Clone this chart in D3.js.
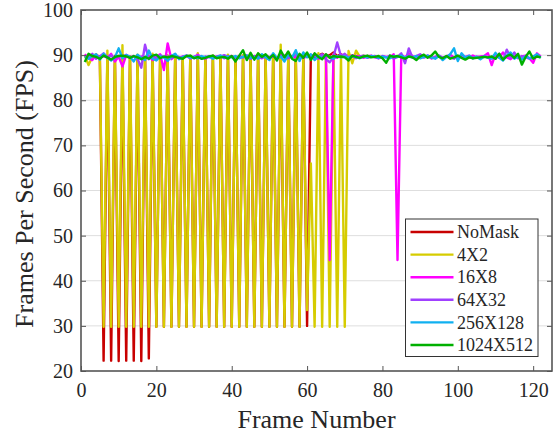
<!DOCTYPE html>
<html>
<head>
<meta charset="utf-8">
<title>FPS</title>
<script src="https://d3js.org/d3.v7.min.js"></script>
<style>
  body { margin: 0; background: #fff; }
  text { font-family: "Liberation Serif", "Times New Roman", serif; fill: #262626; }
</style>
</head>
<body>
<div id="chart"></div>
<script>
// series names and colours (plot order)
const seriesNames = ["NoMask", "4X2", "16X8", "64X32", "256X128", "1024X512"];
const seriesColors = ["#c80000", "#d6cc00", "#ff00ff", "#a040ff", "#10b0f0", "#00b000"];

// FPS per frame, frame 1 first
const noMask = [89.6, 89.9, 89.4, 89.8, 89.7, 22.3, 89.9, 22.3, 89.8, 22.2,
  90.0, 22.3, 89.7, 22.3, 89.9, 22.2, 89.6, 22.8, 89.9, 29.8,
  89.7, 29.8, 89.9, 29.8, 90.1, 29.8, 89.6, 29.8, 89.8, 29.8,
  90.2, 29.8, 89.5, 29.8, 89.8, 29.8, 89.4, 29.8, 90.0, 29.8,
  89.6, 29.8, 89.9, 29.8, 89.5, 29.8, 90.1, 29.8, 89.7, 29.8,
  90.0, 29.8, 90.6, 29.8, 89.6, 29.8, 90.0, 29.8, 89.8, 30.0,
  90.0, 89.5, 89.9, 90.3, 89.7, 90.0, 90.6, 89.8, 90.2, 89.7,
  89.9, 89.6, 89.8, 89.7];

const mask4x2 = [90.0, 87.8, 89.6, 90.2, 89.4, 29.8, 91.0, 29.8, 89.5, 29.8,
  92.2, 29.8, 89.7, 29.8, 90.1, 29.8, 89.3, 29.8, 90.3, 29.8,
  89.6, 29.8, 89.9, 29.8, 90.2, 29.8, 89.5, 29.8, 89.8, 29.8,
  90.4, 29.8, 89.6, 29.8, 89.9, 29.8, 89.4, 29.8, 90.1, 29.8,
  89.7, 29.8, 90.0, 29.8, 89.5, 29.8, 90.3, 29.8, 89.8, 29.8,
  90.1, 29.8, 92.3, 29.8, 89.6, 29.8, 90.2, 29.8, 89.7, 33.5,
  66.0, 29.8, 90.4, 29.8, 89.8, 29.8, 90.2, 29.8, 89.6, 29.8,
  90.9, 88.2, 91.0, 89.6, 89.9, 89.5];

const mask16x8 = [90.2, 89.3, 88.9, 90.1, 89.6, 89.8, 89.4, 90.3, 88.6, 89.7,
  87.5, 90.0, 89.5, 89.8, 89.2, 89.7, 89.4, 89.9, 88.9, 89.6,
  90.2, 86.7, 92.6, 89.1, 89.8, 89.4, 89.7, 89.9, 89.3, 89.6,
  90.1, 89.5, 89.2, 89.8, 89.4, 89.7, 89.9, 89.3, 89.6, 89.8,
  89.4, 89.7, 89.5, 89.9, 89.2, 89.8, 89.6, 89.3, 89.9, 89.5,
  89.7, 89.4, 90.0, 89.6, 89.3, 89.8, 89.5, 89.9, 89.4, 89.7,
  89.5, 90.3, 89.2, 89.8, 90.1, 44.6, 90.2, 89.4, 90.1, 89.7,
  89.3, 90.0, 89.6, 89.8, 89.4, 89.7, 89.9, 89.5, 89.3, 89.8,
  89.6, 89.4, 90.2, 44.6, 90.1, 89.5, 90.3, 89.8, 89.4, 89.7,
  89.5, 89.9, 89.3, 89.6, 89.8, 89.4, 89.7, 90.1, 89.5, 89.3,
  89.8, 89.6, 89.4, 89.9, 89.5, 89.7, 89.8, 90.4, 87.8, 90.2,
  89.4, 90.6, 89.5, 89.1, 89.8, 89.4, 89.7, 89.9, 89.3, 88.3,
  90.4, 89.7];

const mask64x32 = [89.8, 89.4, 90.3, 89.2, 89.7, 90.4, 89.5, 89.9, 89.3, 89.8,
  89.6, 90.1, 89.4, 89.7, 89.2, 87.2, 92.3, 89.1, 89.8, 89.4,
  90.0, 89.5, 89.7, 89.3, 89.9, 89.6, 89.4, 89.8, 89.3, 89.6,
  89.9, 89.2, 89.7, 89.5, 89.8, 89.4, 89.6, 90.0, 89.5, 89.7,
  89.3, 89.8, 89.5, 89.9, 89.2, 89.6, 89.8, 89.4, 89.7, 89.5,
  90.2, 89.3, 89.6, 89.9, 89.4, 89.7, 90.1, 89.2, 89.6, 89.9,
  89.4, 89.8, 89.5, 90.2, 89.1, 88.4, 89.6, 92.8, 89.7, 90.3,
  89.5, 89.8, 89.3, 89.7, 89.9, 89.4, 89.6, 89.8, 89.3, 89.7,
  89.5, 89.9, 89.2, 89.6, 90.4, 88.2, 91.5, 89.4, 89.8, 90.2,
  89.5, 89.7, 89.3, 89.6, 89.9, 89.4, 89.7, 89.5, 89.2, 89.8,
  89.4, 89.6, 89.9, 89.3, 89.7, 89.5, 89.8, 89.4, 89.6, 89.2,
  90.3, 88.9, 91.2, 89.5, 90.6, 89.3, 89.8, 89.5, 89.2, 89.7,
  90.1, 89.6];

const mask256x128 = [89.6, 89.2, 89.8, 90.2, 89.0, 90.3, 89.4, 88.8, 89.5, 91.5,
  89.3, 90.0, 89.6, 88.6, 90.1, 89.4, 88.9, 91.0, 89.2, 88.8,
  89.7, 89.5, 88.7, 89.8, 90.3, 89.1, 89.6, 89.9, 89.4, 89.6,
  89.3, 89.8, 89.5, 89.7, 89.2, 89.6, 89.9, 89.4, 89.7, 89.5,
  89.8, 89.3, 89.6, 89.9, 89.4, 89.6, 89.2, 90.2, 89.5, 88.9,
  90.4, 89.3, 89.7, 88.6, 90.1, 89.4, 91.1, 88.7, 90.6, 89.5,
  90.2, 88.9, 89.8, 89.3, 90.0, 89.6, 89.2, 89.8, 89.5, 89.7,
  89.4, 89.8, 89.6, 89.3, 89.7, 89.5, 89.8, 89.6, 89.4, 89.7,
  89.5, 89.3, 89.8, 89.6, 89.9, 89.4, 89.7, 89.5, 89.8, 89.3,
  89.6, 89.9, 89.5, 89.2, 89.8, 88.9, 89.6, 90.2, 91.5, 88.7,
  90.4, 89.4, 89.8, 89.3, 89.6, 89.1, 89.7, 89.5, 89.2, 90.5,
  89.4, 88.8, 89.9, 90.6, 89.2, 89.7, 89.0, 89.8, 89.3, 89.6,
  90.2, 89.4];

const mask1024x512 = [88.5, 90.3, 89.8, 89.6, 89.2, 89.9, 89.5, 89.0, 89.6, 89.8,
  89.9, 89.7, 89.4, 89.8, 89.5, 89.1, 89.6, 89.2, 89.9, 90.1,
  89.3, 89.7, 89.5, 89.8, 89.6, 89.4, 89.2, 89.8, 89.9, 89.3,
  89.6, 89.2, 89.4, 89.7, 89.9, 89.3, 89.5, 89.6, 89.2, 89.8,
  88.6, 89.9, 91.1, 88.9, 90.5, 89.0, 90.4, 89.6, 90.2, 89.3,
  90.0, 88.8, 91.0, 89.5, 90.8, 89.2, 88.7, 90.3, 89.4, 90.6,
  88.9, 90.4, 89.6, 89.1, 90.2, 89.4, 89.8, 89.6, 89.7, 89.5,
  88.8, 89.9, 89.6, 89.4, 89.7, 89.9, 89.5, 89.6, 89.8, 89.3,
  88.3, 89.9, 89.6, 89.8, 89.5, 89.2, 89.7, 89.5, 88.9, 89.7,
  90.1, 89.4, 89.9, 90.8, 89.6, 89.3, 89.8, 89.2, 89.5, 89.9,
  89.4, 89.0, 89.5, 89.3, 89.4, 89.5, 89.6, 89.5, 89.7, 89.2,
  90.3, 89.0, 89.8, 90.1, 89.4, 90.3, 87.9, 89.6, 90.8, 89.2,
  89.7, 89.5];

const seriesValues = [noMask, mask4x2, mask16x8, mask64x32, mask256x128, mask1024x512];

const xTicks = [0, 20, 40, 60, 80, 100, 120];
const yTicks = [20, 30, 40, 50, 60, 70, 80, 90, 100];

const width = 560, height = 434;
const plotLeft = 81, plotRight = 552, plotTop = 10, plotBottom = 371;

const svg = d3.select("#chart").append("svg")
  .attr("width", width)
  .attr("height", height);

const x = d3.scaleLinear().domain([0, 125]).range([plotLeft, plotRight]);
const y = d3.scaleLinear().domain([20, 100]).range([plotBottom, plotTop]);

// horizontal grid
svg.append("g")
  .selectAll("line")
  .data(yTicks.slice(1, -1))
  .enter().append("line")
    .attr("x1", plotLeft).attr("x2", plotRight)
    .attr("y1", d => y(d)).attr("y2", d => y(d))
    .attr("stroke", "#dedede")
    .attr("stroke-width", 1);

// lines
const line = d3.line()
  .x((d, i) => x(i + 1))
  .y(d => y(d));

svg.append("g")
  .selectAll("path")
  .data(seriesValues)
  .enter().append("path")
    .attr("d", line)
    .attr("fill", "none")
    .attr("stroke", (d, i) => seriesColors[i])
    .attr("stroke-width", 2.4)
    .attr("stroke-linejoin", "round");

// axes, box with inward ticks
const axisColor = "#555";
function styleAxis(g, showText) {
  g.select(".domain").remove();
  g.selectAll(".tick line").attr("stroke", axisColor).attr("stroke-width", 1);
  g.selectAll(".tick text")
    .style("font-family", "'Liberation Serif', serif")
    .style("font-size", "20px")
    .attr("fill", "#262626");
  if (!showText) g.selectAll(".tick text").remove();
}

svg.append("g")
  .attr("transform", `translate(0,${plotBottom})`)
  .call(d3.axisBottom(x).tickValues(xTicks).tickSize(-5).tickPadding(12))
  .call(g => styleAxis(g, true));

svg.append("g")
  .attr("transform", `translate(0,${plotTop})`)
  .call(d3.axisTop(x).tickValues(xTicks).tickSize(-5))
  .call(g => styleAxis(g, false));

svg.append("g")
  .attr("transform", `translate(${plotLeft},0)`)
  .call(d3.axisLeft(y).tickValues(yTicks).tickSize(-5).tickPadding(8))
  .call(g => styleAxis(g, true));

svg.append("g")
  .attr("transform", `translate(${plotRight},0)`)
  .call(d3.axisRight(y).tickValues(yTicks).tickSize(-5))
  .call(g => styleAxis(g, false));

svg.append("rect")
  .attr("x", plotLeft).attr("y", plotTop)
  .attr("width", plotRight - plotLeft).attr("height", plotBottom - plotTop)
  .attr("fill", "none")
  .attr("stroke", axisColor)
  .attr("stroke-width", 1.6);

// axis labels
svg.append("text")
  .attr("x", (plotLeft + plotRight) / 2)
  .attr("y", 428)
  .attr("text-anchor", "middle")
  .style("font-size", "26px")
  .text("Frame Number");

svg.append("text")
  .attr("transform", "translate(33,194) rotate(-90)")
  .attr("text-anchor", "middle")
  .style("font-size", "26px")
  .text("Frames Per Second (FPS)");

// legend
const legend = svg.append("g").attr("transform", "translate(405.5,219)");
legend.append("rect")
  .attr("width", 132.5).attr("height", 137.5)
  .attr("fill", "#fff")
  .attr("stroke", "#333")
  .attr("stroke-width", 1);

const rows = legend.selectAll("g")
  .data(seriesNames)
  .enter().append("g")
    .attr("transform", (d, i) => `translate(0,${13 + i * 22.6})`);

rows.append("line")
  .attr("x1", 5).attr("x2", 48)
  .attr("stroke", (d, i) => seriesColors[i])
  .attr("stroke-width", 2.4);

rows.append("text")
  .attr("x", 51.5)
  .attr("dy", "0.34em")
  .style("font-size", "18px")
  .text(d => d);
</script>
</body>
</html>
